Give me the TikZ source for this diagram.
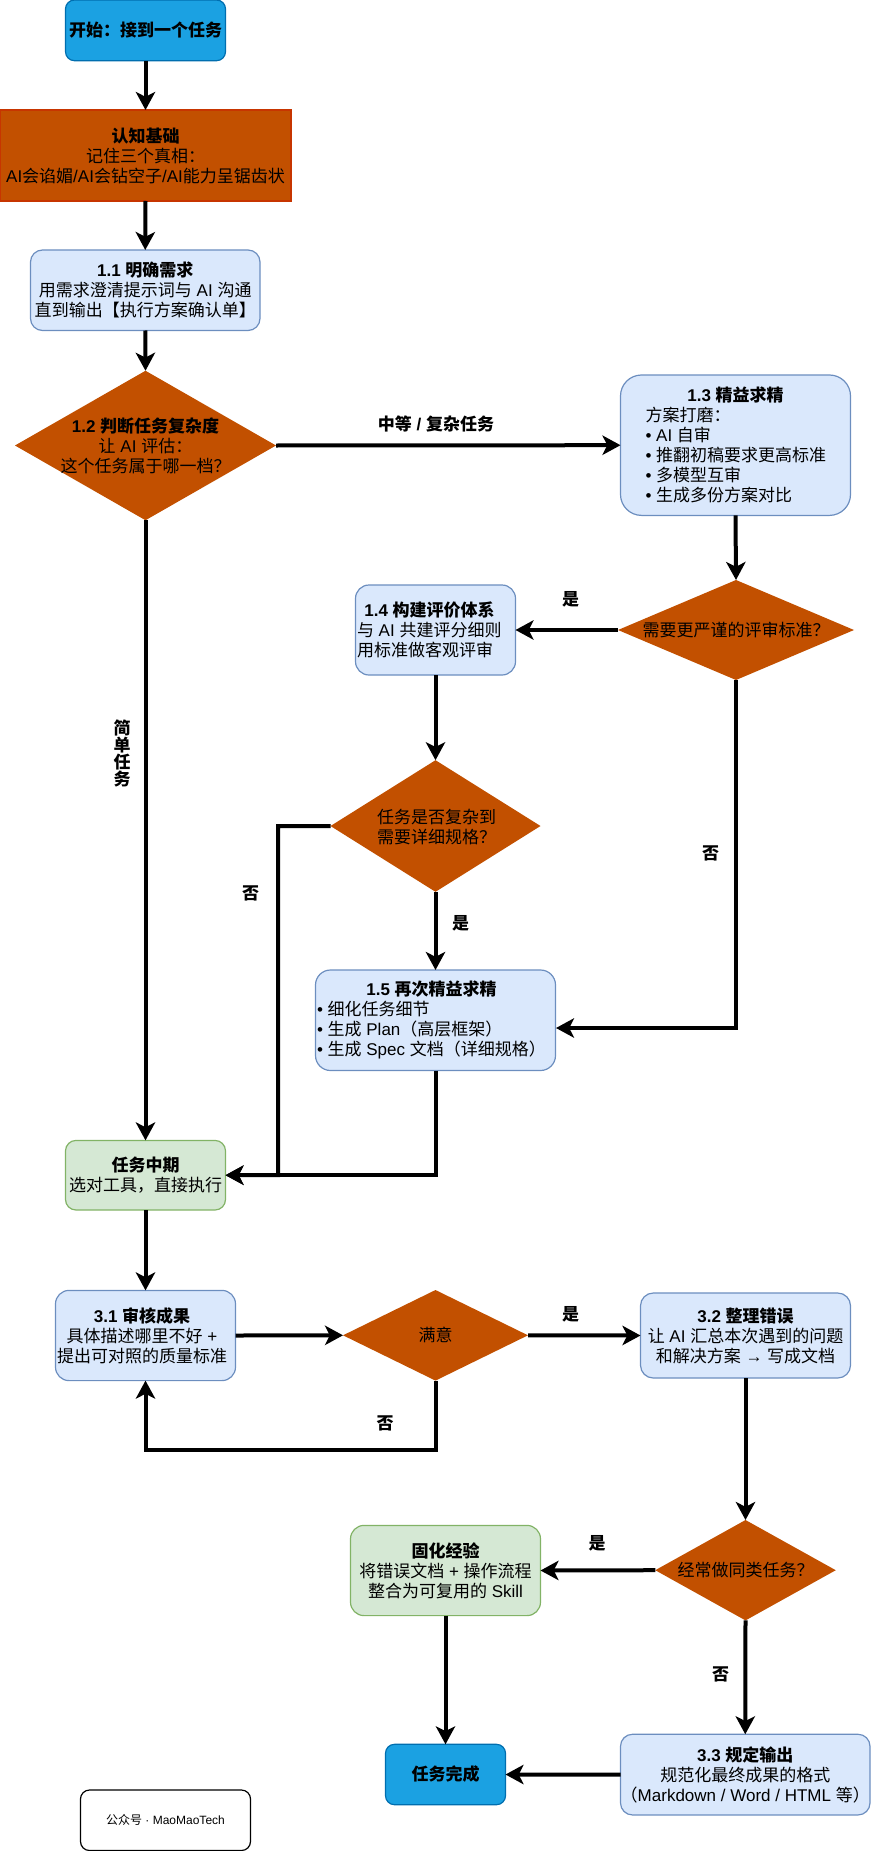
\documentclass[tikz,border=0pt]{standalone}
\usepackage{fontspec}
\setmainfont{Liberation Sans}
\newfontfamily\cjkf{Noto Sans CJK SC}
\usetikzlibrary{arrows.meta,shapes.geometric}
\XeTeXinterchartokenstate=1
\newXeTeXintercharclass\CJKcl
\newcount\cjkc
\cjkc="2E80
\loop\XeTeXcharclass\cjkc=\CJKcl\advance\cjkc by 1\ifnum\cjkc<"A000\repeat
\cjkc="FF00
\loop\XeTeXcharclass\cjkc=\CJKcl\advance\cjkc by 1\ifnum\cjkc<"FFF0\repeat
\XeTeXinterchartoks 0 \CJKcl = {\begingroup\cjkf}
\XeTeXinterchartoks 4095 \CJKcl = {\begingroup\cjkf}
\XeTeXinterchartoks \CJKcl 0 = {\endgroup}
\XeTeXinterchartoks \CJKcl 4095 = {\endgroup}
\definecolor{blueS}{HTML}{1BA1E2}\definecolor{blueE}{HTML}{006EAF}
\definecolor{orgF}{HTML}{C25000}\definecolor{orgE}{HTML}{C73500}
\definecolor{lbF}{HTML}{DAE8FC}\definecolor{lbE}{HTML}{6C8EBF}
\definecolor{lgF}{HTML}{D5E8D4}\definecolor{lgE}{HTML}{82B366}
\tikzset{
 x=0.75pt,y=-0.75pt,
 every node/.style={inner sep=0pt,outer sep=0pt,font=\fontsize{12.75}{15}\selectfont,align=center,text=black},
 bx/.style n args={3}{rectangle,draw,line width=0.9pt,minimum width=#1*0.75pt,minimum height=#2*0.75pt,rounded corners=#3*0.75pt},
 startbox/.style={fill=blueS,draw=blueE},
 cogbox/.style={fill=orgF,draw=orgE},
 bluebox/.style={fill=lbF,draw=lbE},
 greenbox/.style={fill=lgF,draw=lgE},
 whitebox/.style={fill=white,draw=black},
 dia/.style n args={2}{diamond,fill=orgF,minimum width=#1*0.75pt,minimum height=#2*0.75pt},
 conn/.style={draw=black,line width=3pt,miter limit=10,-{Stealth[length=13.5pt,width=14.5pt,inset=3.6pt]}},
 lab/.style={font=\fontsize{12.75}{15}\selectfont\bfseries},
}
\begin{document}
\begin{tikzpicture}
\useasboundingbox (0,0) rectangle (871,1851);
% nodes
\node[bx={160}{60.7}{9},startbox] (start) at (145.5,30.35) {\textbf{开始：接到一个任务}};
\node[bx={291}{91}{0},cogbox] (cog) at (145.5,155.5) {\textbf{认知基础}\\记住三个真相：\\AI会谄媚/AI会钻空子/AI能力呈锯齿状};
\node[bx={229.5}{80.5}{12},bluebox] (n11) at (145.25,290.25) {\textbf{1.1 明确需求}\\用需求澄清提示词与 AI 沟通\\直到输出【执行方案确认单】};
\node[dia={261}{149.5}] (d12) at (145.5,445.5) {};
\node (d12t) at (145.5,445.5) {\textbf{1.2 判断任务复杂度}\\让 AI 评估：\\这个任务属于哪一档？};
\node[bx={230}{140.4}{21},bluebox] (n13) at (735.5,445.2) {\textbf{1.3 精益求精}\\\makebox[135pt][l]{方案打磨：}\\\makebox[135pt][l]{• AI 自审}\\\makebox[135pt][l]{• 推翻初稿要求更高标准}\\\makebox[135pt][l]{• 多模型互审}\\\makebox[135pt][l]{• 生成多份方案对比}};
\node[dia={236}{100}] (d2) at (736,630) {};
\node (d2t) at (736,630) {需要更严谨的评审标准？};
\node[bx={160}{90}{13.5},bluebox] (n14) at (435.5,630) {\hspace*{-9pt}\textbf{1.4 构建评价体系}\\\makebox[117.75pt][l]{与 AI 共建评分细则}\\\makebox[117.75pt][l]{用标准做客观评审}};
\node[dia={210}{131.6}] (d3) at (435.5,826) {};
\node (d3t) at (435.5,827) {\makebox[117.75pt][l]{\hspace*{15pt}任务是否复杂到}\\\makebox[117.75pt][l]{\hspace*{15pt}需要详细规格？}};
\node[bx={240}{100.5}{15},bluebox] (n15) at (435.5,1020.25) {\hspace*{-6pt}\textbf{1.5 再次精益求精}\\\makebox[177.75pt][l]{• 细化任务细节}\\\makebox[177.75pt][l]{• 生成 Plan（高层框架）}\\\makebox[177.75pt][l]{• 生成 Spec 文档（详细规格）}};
\node[bx={160}{69.6}{10.5},greenbox] (mid) at (145.5,1175.2) {\textbf{任务中期}\\选对工具，直接执行};
\node[bx={180}{90.2}{13.5},bluebox] (n31) at (145.5,1335.5) {\hspace*{-5.25pt}\textbf{3.1 审核成果}\\\hspace*{-5.25pt}具体描述哪里不好 +\\\hspace*{-5.25pt}提出可对照的质量标准};
\node[dia={185}{90.6}] (sat) at (435.5,1335.3) {};
\node (satt) at (435.5,1335.3) {满意};
\node[bx={210}{85}{12.75},bluebox] (n32) at (745.5,1335.5) {\textbf{3.2 整理错误}\\让 AI 汇总本次遇到的问题\\和解决方案 → 写成文档};
\node[dia={180.5}{100.4}] (d4) at (745.5,1570.2) {};
\node (d4t) at (745.5,1570.2) {经常做同类任务？};
\node[bx={190}{90.2}{13.5},greenbox] (fix) at (445.5,1570.5) {\textbf{固化经验}\\将错误文档 + 操作流程\\整合为可复用的 Skill};
\node[bx={249.5}{80.7}{12},bluebox] (n33) at (745.25,1774.6) {\textbf{3.3 规定输出}\\规范化最终成果的格式\\（Markdown / Word / HTML 等）};
\node[bx={120}{60.4}{9},startbox] (done) at (445.5,1774.5) {\textbf{任务完成}};
\node[bx={170}{60.5}{9},whitebox,font=\fontsize{9}{11}\selectfont] (foot) at (165.5,1820.25) {公众号 · MaoMaoTech};
% helper points
\coordinate (nojoin) at (278,1175);
\coordinate (n15in) at (556,1028);
\coordinate (lp) at (145.5,1450);
% connectors
\draw[conn] (start.south) -- (cog.north);
\draw[conn] (cog.south) -- (n11.north);
\draw[conn] (n11.south) -- (d12.north);
\draw[conn] (d12.east) -- (n13.west);
\draw[conn] (d12.south) -- (mid.north);
\draw[conn] (n13.south) -- (d2.north);
\draw[conn] (d2.west) -- (n14.east);
\draw[conn] (d2.south) |- (n15in);
\draw[conn] (n14.south) -- (d3.north);
\draw[conn] (d3.south) -- (n15.north);
\draw[conn] (d3.west) -| (nojoin) -- (mid.east);
\draw[conn] (n15.south) |- (mid.east);
\draw[conn] (mid.south) -- (n31.north);
\draw[conn] (n31.east) -- (sat.west);
\draw[conn] (sat.east) -- (n32.west);
\draw[conn] (sat.south) |- (lp) -- (n31.south);
\draw[conn] (n32.south) -- (d4.north);
\draw[conn] (d4.west) -- (fix.east);
\draw[conn] (d4.south) -- (n33.north);
\draw[conn] (fix.south) -- (done.north);
\draw[conn] (n33.west) -- (done.east);
% labels
\node[lab] (l1) at (436,424) {中等 / 复杂任务};
\node[lab,font=\fontsize{12.75}{12.75}\selectfont\bfseries] (l2) at (122,753) {简\\单\\任\\务};
\node[lab] (l3) at (570.5,599) {是};
\node[lab] (l4) at (710.5,853) {否};
\node[lab] (l5) at (250.5,893) {否};
\node[lab] (l6) at (460.5,923) {是};
\node[lab] (l7) at (570.5,1314) {是};
\node[lab] (l8) at (385,1423.6) {否};
\node[lab] (l9) at (597,1543.5) {是};
\node[lab] (l10) at (720.5,1674) {否};
\end{tikzpicture}
\end{document}
